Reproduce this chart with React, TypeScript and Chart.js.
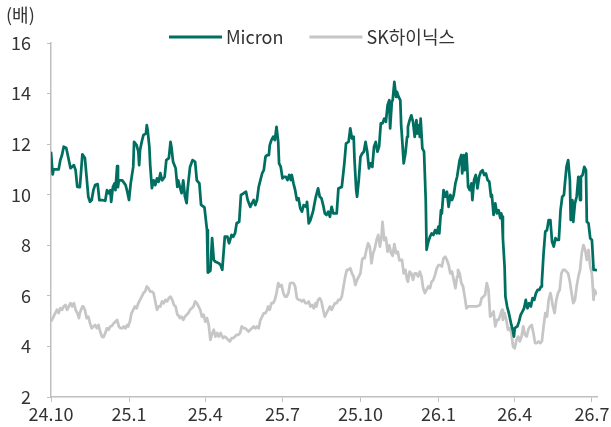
import { useEffect, useRef } from "react";
import { Chart, registerables } from "chart.js";

Chart.register(...registerables);

// x = days since 2024-10-01
const tickDays = [0, 92, 182, 273, 365, 457, 547, 638];
const tickLabels = ["24.10", "25.1", "25.4", "25.7", "25.10", "26.1", "26.4", "26.7"];
const seriesNames = ["Micron", "SK하이닉스"];
const unitLabel = "(배)";

const micronDays = [
  0, 2, 3, 9, 11, 13, 15, 18, 21, 23, 27, 29, 31, 34, 35, 37, 40, 42, 44, 46, 48, 50, 52, 55, 56, 57, 60, 64, 66, 68,
  70, 71, 73, 75, 76, 78, 79, 80, 84, 88, 90, 92, 94, 97, 98, 101, 103, 104, 105, 107, 109, 112, 113, 114, 116, 117,
  119, 121, 123, 125, 127, 129, 131, 134, 136, 139, 141, 142, 144, 147, 149, 150, 152, 154, 156, 158, 160, 161, 164,
  167, 170, 172, 175, 177, 181, 184, 185, 188, 190, 192, 194, 198, 200, 202, 205, 208, 210, 213, 215, 217, 219, 222,
  224, 227, 230, 232, 235, 237, 239, 241, 243, 245, 247, 249, 251, 253, 255, 257, 258, 260, 262, 264, 266, 268, 269,
  271, 273, 275, 277, 279, 281, 283, 284, 286, 288, 290, 292, 294, 296, 298, 301, 302, 304, 306, 309, 312, 313, 315,
  317, 319, 321, 323, 325, 327, 329, 331, 333, 337, 339, 343, 346, 348, 351, 353, 355, 357, 358, 360, 361, 363, 365,
  367, 369, 371, 373, 375, 377, 379, 381, 383, 385, 387, 389, 391, 393, 395, 397, 399, 400, 402, 403, 405, 407, 408,
  410, 412, 413, 414, 416, 418, 420, 421, 423, 425, 427, 429, 431, 432, 434, 435, 436, 438, 440, 442, 443, 445, 447,
  449, 451, 453, 455, 457, 458, 460, 461, 463, 465, 467, 469, 471, 473, 475, 477, 479, 480, 482, 484, 485, 487, 488,
  490, 491, 492, 494, 496, 497, 499, 501, 503, 505, 507, 509, 511, 513, 515, 517, 519, 520, 522, 524, 526, 528, 530,
  531, 532, 533, 535, 536, 538, 540, 543, 545, 546, 547, 550, 552, 554, 556, 558, 560, 562, 564, 566, 568, 570, 572,
  574, 576, 578, 579, 581, 583, 585, 587, 589, 591, 593, 595, 597, 599, 601, 603, 605, 606, 608, 610, 612, 613, 615,
  616, 618, 620, 622, 624, 625, 627, 629, 631, 632, 634, 636, 638, 640, 642, 644,
];
const micronValues = [
  11.7, 10.8, 11.0, 11.0, 11.37, 11.57, 11.9, 11.85, 11.37, 11.05, 11.17, 10.97, 10.31, 10.3, 10.7, 11.6, 11.45, 10.7,
  9.92, 9.72, 9.79, 10.18, 10.38, 10.42, 10.12, 9.79, 9.79, 9.76, 10.18, 10.06, 10.18, 9.72, 10.3, 10.45, 10.18, 11.13,
  10.3, 10.57, 10.57, 10.38, 10.12, 9.79, 10.45, 11.1, 12.09, 11.96, 11.7, 11.17, 11.76, 12.09, 12.36, 12.43, 12.75,
  12.55, 11.9, 11.17, 10.26, 10.57, 10.38, 10.65, 10.51, 10.85, 10.57, 10.7, 11.37, 11.45, 12.09, 11.9, 11.3, 11.05,
  10.31, 10.57, 10.31, 10.06, 10.57, 9.92, 9.67, 10.18, 11.1, 11.37, 11.3, 10.57, 10.45, 9.6, 9.5, 8.6, 6.92, 7.0, 8.28,
  7.42, 7.35, 7.29, 7.22, 7.03, 8.34, 8.34, 8.08, 8.41, 8.34, 8.47, 8.87, 8.93, 9.99, 10.05, 10.12, 9.79, 9.52, 9.66,
  9.79, 9.59, 9.79, 10.31, 10.58, 10.84, 10.97, 11.5, 11.57, 11.57, 11.96, 12.16, 12.29, 12.16, 12.68, 12.09, 11.24,
  11.1, 10.65, 10.71, 10.71, 10.58, 10.78, 10.58, 10.78, 10.45, 10.18, 9.79, 9.86, 9.46, 9.33, 9.59, 9.52, 9.72, 8.87,
  9.0, 9.33, 9.86, 9.99, 10.25, 9.92, 9.86, 9.59, 9.26, 9.2, 9.33, 9.13, 9.52, 9.26, 9.26, 10.25, 10.31, 11.24, 12.03,
  12.09, 12.62, 12.22, 12.29, 11.37, 10.18, 9.92, 10.58, 11.5, 11.63, 11.7, 12.09, 11.7, 11.04, 11.24, 11.1, 11.9,
  12.09, 11.7, 11.9, 12.82, 12.82, 13.01, 12.88, 13.54, 13.74, 12.62, 13.67, 13.74, 14.46, 13.87, 14.07, 13.87, 13.74,
  12.75, 12.29, 11.24, 11.63, 12.29, 12.68, 12.95, 13.14, 12.88, 12.29, 12.95, 12.42, 12.75, 12.29, 13.01, 11.83, 11.7,
  9.79, 7.82, 8.14, 8.34, 8.47, 8.41, 8.6, 8.47, 8.74, 8.47, 9.39, 9.26, 10.18, 9.92, 10.12, 9.52, 9.99, 9.79, 9.99,
  10.45, 10.71, 10.71, 11.37, 11.57, 10.84, 11.57, 10.97, 11.63, 11.04, 10.31, 10.18, 10.45, 9.79, 10.58, 10.78, 10.25,
  10.71, 10.91, 10.97, 10.78, 10.84, 10.58, 10.51, 9.92, 9.99, 9.2, 9.66, 9.26, 9.39, 9.07, 9.26, 9.13, 8.28, 7.16, 5.97,
  5.58, 5.32, 4.85, 4.59, 4.39, 4.72, 4.79, 4.98, 5.25, 5.38, 5.51, 5.84, 5.51, 5.71, 5.58, 5.91, 5.84, 6.11, 6.24, 6.24,
  6.37, 6.56, 7.69, 8.54, 8.6, 9.0, 9.0, 8.14, 7.95, 8.28, 8.21, 8.21, 9.39, 9.92, 9.99, 10.38, 11.1, 11.37, 10.58, 9.0,
  9.79, 8.93, 9.66, 9.92, 10.71, 9.79, 10.71, 10.78, 11.1, 10.97, 8.93, 8.87, 8.28, 8.21, 7.03, 7.03, 7.0,
];

const hynixDays = [
  0, 3, 5, 7, 9, 11, 13, 15, 17, 19, 21, 23, 25, 27, 29, 31, 33, 34, 37, 38, 40, 42, 44, 46, 48, 50, 52, 54, 56, 58, 60,
  62, 64, 66, 68, 70, 72, 74, 76, 78, 80, 82, 84, 86, 88, 90, 91, 93, 95, 97, 99, 101, 103, 105, 107, 109, 111, 113,
  115, 117, 119, 121, 123, 125, 127, 129, 131, 133, 135, 137, 139, 141, 143, 145, 147, 149, 150, 152, 154, 156, 158,
  160, 162, 164, 166, 168, 170, 172, 174, 176, 178, 180, 182, 184, 186, 188, 190, 192, 194, 196, 198, 200, 202, 203,
  205, 207, 209, 211, 213, 215, 217, 219, 221, 223, 225, 227, 229, 231, 233, 235, 237, 239, 241, 243, 245, 247, 249,
  251, 253, 255, 256, 258, 260, 262, 264, 266, 268, 270, 272, 274, 276, 278, 280, 282, 284, 286, 288, 290, 292, 294,
  296, 298, 300, 302, 304, 306, 308, 310, 312, 313, 315, 317, 319, 321, 323, 325, 327, 329, 331, 333, 335, 337, 339,
  341, 343, 345, 347, 349, 351, 353, 355, 357, 359, 361, 363, 365, 367, 368, 370, 372, 374, 376, 378, 380, 382, 384,
  386, 388, 390, 391, 393, 395, 397, 399, 401, 403, 405, 407, 409, 411, 414, 416, 418, 420, 421, 423, 425, 427, 429,
  431, 433, 435, 437, 439, 441, 443, 445, 447, 449, 451, 453, 455, 457, 459, 461, 463, 465, 467, 469, 471, 473, 475,
  477, 479, 480, 482, 484, 486, 488, 490, 492, 494, 498, 502, 506, 508, 510, 512, 514, 516, 518, 520, 522, 524, 526,
  528, 530, 532, 533, 535, 537, 539, 541, 543, 545, 547, 549, 551, 553, 555, 557, 559, 561, 563, 565, 567, 569, 571,
  573, 575, 577, 579, 581, 583, 585, 587, 589, 590, 592, 594, 596, 598, 600, 602, 604, 606, 608, 610, 612, 614, 616,
  618, 620, 622, 624, 626, 628, 630, 632, 634, 636, 638, 640, 641, 643, 644,
];
const hynixValues = [
  4.98, 5.18, 5.32, 5.45, 5.32, 5.51, 5.45, 5.58, 5.64, 5.45, 5.58, 5.71, 5.58, 5.71, 5.45, 5.32, 5.12, 5.32, 5.58, 5.58,
  5.45, 5.12, 5.18, 4.92, 4.72, 4.79, 4.85, 4.72, 4.85, 4.59, 4.39, 4.37, 4.53, 4.72, 4.66, 4.79, 4.82, 4.92, 4.98, 5.05,
  4.79, 4.72, 4.72, 4.79, 4.72, 4.85, 4.79, 4.98, 5.32, 5.45, 5.58, 5.51, 5.71, 5.84, 5.97, 6.11, 6.17, 6.37, 6.3, 6.17,
  6.17, 6.11, 5.78, 5.45, 5.58, 5.58, 5.78, 5.71, 5.84, 5.78, 5.91, 5.97, 5.84, 5.64, 5.58, 5.25, 5.25, 5.12, 5.18, 5.05,
  5.18, 5.25, 5.32, 5.45, 5.51, 5.58, 5.78, 5.71, 5.58, 5.45, 5.18, 5.25, 4.98, 5.12, 4.85, 4.26, 4.5, 4.66, 4.39, 4.53,
  4.39, 4.53, 4.39, 4.33, 4.39, 4.33, 4.26, 4.2, 4.33, 4.33, 4.39, 4.46, 4.46, 4.53, 4.79, 4.72, 4.72, 4.66, 4.59, 4.66,
  4.72, 4.79, 4.72, 4.79, 4.72, 5.05, 5.18, 5.32, 5.32, 5.45, 5.58, 5.45, 5.71, 5.71, 5.84, 6.11, 6.5, 6.37, 6.43, 6.11,
  5.97, 5.97, 6.11, 6.5, 6.52, 6.5, 6.37, 5.91, 5.84, 5.84, 5.78, 5.84, 5.71, 5.71, 5.78, 5.58, 5.64, 5.51, 5.71, 5.58,
  5.84, 5.91, 5.78, 5.45, 5.18, 5.32, 5.45, 5.58, 5.45, 5.58, 5.71, 5.71, 5.84, 5.84, 5.97, 6.37, 6.76, 7.03, 7.03, 7.09,
  6.89, 6.76, 6.43, 6.63, 6.76, 6.89, 7.42, 7.49, 7.49, 7.82, 8.08, 7.95, 7.29, 7.69, 7.88, 8.21, 8.41, 7.95, 8.4, 8.93,
  8.2, 8.3, 7.75, 8.0, 7.7, 7.58, 8.05, 7.69, 7.75, 7.4, 7.42, 6.89, 7.03, 6.63, 6.56, 6.96, 6.89, 6.63, 6.89, 6.89, 6.76,
  6.96, 6.76, 6.3, 6.11, 6.24, 6.37, 6.3, 6.56, 6.63, 6.83, 7.09, 7.22, 7.22, 7.16, 7.49, 7.55, 7.42, 7.22, 6.89, 6.96,
  6.63, 6.3, 6.76, 7.03, 6.89, 6.5, 6.37, 5.97, 5.51, 5.58, 5.58, 5.58, 5.58, 5.64, 5.91, 5.97, 6.04, 6.5, 6.24, 5.18,
  5.25, 5.38, 4.79, 5.05, 5.05, 5.25, 5.45, 5.05, 5.32, 5.05, 4.66, 4.72, 4.53, 4.0, 3.93, 4.26, 4.39, 4.2, 4.39, 4.79,
  4.46, 4.39, 4.66, 4.79, 4.85, 4.53, 4.13, 4.13, 4.2, 4.13, 4.2, 4.79, 5.32, 5.18, 5.84, 6.11, 5.97, 5.58, 5.32, 5.84,
  6.11, 6.24, 6.89, 7.03, 7.03, 6.96, 6.89, 6.56, 6.11, 5.71, 5.84, 6.37, 6.76, 7.03, 7.69, 8.01, 7.82, 7.42, 7.82, 7.16,
  6.89, 5.84, 6.24, 6.11, 6.04,
];

const FONT = "'Noto Sans CJK KR', 'Noto Sans', sans-serif";
const FS = 18;
const TEXT = "#333333";
const AXIS = "#bfbfbf";
const MICRON_COLOR = "#006f61";
const HYNIX_COLOR = "#c6c6c6";

const overlayPlugin = {
  id: "overlay",
  afterDraw(chart: any) {
    const ctx = chart.ctx as CanvasRenderingContext2D;
    ctx.save();
    ctx.font = `${FS}px ${FONT}`;
    ctx.fillStyle = TEXT;
    ctx.textBaseline = "middle";
    ctx.textAlign = "left";
    ctx.fillText(unitLabel, 6, 15);
    let x = 169;
    const y = 37;
    chart.data.datasets.forEach((ds: any) => {
      ctx.strokeStyle = ds.borderColor;
      ctx.lineWidth = 3;
      ctx.beginPath();
      ctx.moveTo(x, y);
      ctx.lineTo(x + 53, y);
      ctx.stroke();
      ctx.fillStyle = TEXT;
      ctx.fillText(ds.label, x + 57, y);
      x += 57 + ctx.measureText(ds.label).width + 26;
    });
    ctx.restore();
  },
};

export default function App() {
  const ref = useRef<HTMLCanvasElement | null>(null);
  useEffect(() => {
    if (!ref.current) return;
    const chart = new Chart(ref.current, {
      type: "line",
      data: {
        datasets: [
          {
            label: seriesNames[0],
            data: micronDays.map((d, i) => ({ x: d, y: micronValues[i] })),
            borderColor: MICRON_COLOR,
            backgroundColor: MICRON_COLOR,
            borderWidth: 2.75,
            pointRadius: 0,
            tension: 0,
            borderJoinStyle: "round",
          },
          {
            label: seriesNames[1],
            data: hynixDays.map((d, i) => ({ x: d, y: hynixValues[i] })),
            borderColor: HYNIX_COLOR,
            backgroundColor: HYNIX_COLOR,
            borderWidth: 2.75,
            pointRadius: 0,
            tension: 0,
            borderJoinStyle: "round",
          },
        ],
      },
      options: {
        responsive: false,
        animation: false,
        devicePixelRatio: 1,
        layout: { padding: { top: 43, right: 14, bottom: 0, left: 0 } },
        plugins: { legend: { display: false }, tooltip: { enabled: false } },
        scales: {
          x: {
            type: "linear",
            min: 0,
            max: 644,
            afterBuildTicks: (scale: any) => {
              scale.ticks = tickDays.map((v) => ({ value: v }));
            },
            afterFit: (scale: any) => {
              scale.height = 30;
            },
            ticks: {
              autoSkip: false,
              maxRotation: 0,
              padding: 1,
              color: TEXT,
              font: { family: FONT, size: FS },
              callback: (value: any) => {
                const i = tickDays.indexOf(Number(value));
                return i >= 0 ? tickLabels[i] : "";
              },
            },
            grid: { drawOnChartArea: false, drawTicks: true, tickLength: 5, color: AXIS, lineWidth: 1 },
            border: { display: true, color: AXIS, width: 1.5 },
          },
          y: {
            min: 2,
            max: 16,
            afterFit: (scale: any) => {
              scale.width = 51;
            },
            ticks: {
              stepSize: 2,
              padding: 16,
              color: TEXT,
              font: { family: FONT, size: FS },
            },
            grid: { drawOnChartArea: false, drawTicks: true, tickLength: 4, color: AXIS, lineWidth: 1 },
            border: { display: true, color: AXIS, width: 1.5 },
          },
        },
      },
      plugins: [overlayPlugin],
    });
    return () => chart.destroy();
  }, []);
  return (
    <div style={{ position: "fixed", left: 0, top: 0, width: 611, height: 427, background: "#fff" }}>
      <canvas ref={ref} width={611} height={427} />
    </div>
  );
}
